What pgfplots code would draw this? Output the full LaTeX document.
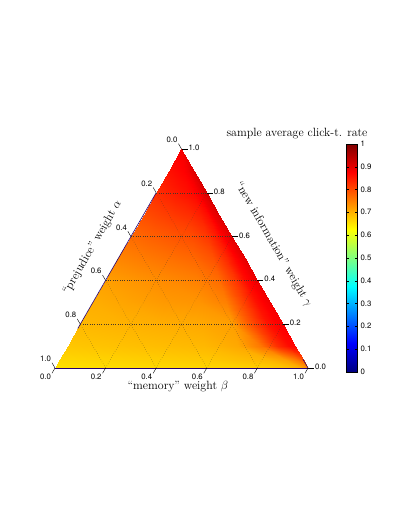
\documentclass[border=0pt]{standalone}
\usepackage{pgfplots}
\pgfplotsset{compat=1.18}
\usepackage{pgfplotstable}
\usepackage{fontspec}
\setsansfont{TeX Gyre Heros}
\definecolor{gridgray}{RGB}{70,55,40}
\definecolor{edgenavy}{RGB}{40,0,110}

% ternary data: b = memory weight beta, c = new-information weight gamma
% (alpha = 1-b-c), v = sample average click-through rate
\pgfplotstableread{
b c v
0 0 0.655
0.2 0 0.658
0.4 0 0.662
0.6 0 0.666
0.75 0 0.670
0.85 0 0.675
0.92 0 0.685
0.97 0 0.700
1 0 0.730
0 0.04 0.665
0.192 0.04 0.670
0.384 0.04 0.675
0.576 0.04 0.680
0.72 0.04 0.690
0.816 0.04 0.700
0.8832 0.04 0.720
0.9312 0.04 0.760
0.96 0.04 0.800
0 0.1 0.680
0.18 0.1 0.685
0.36 0.1 0.690
0.54 0.1 0.695
0.675 0.1 0.710
0.765 0.1 0.760
0.828 0.1 0.830
0.873 0.1 0.865
0.9 0.1 0.870
0 0.2 0.695
0.16 0.2 0.700
0.32 0.2 0.705
0.48 0.2 0.710
0.6 0.2 0.720
0.68 0.2 0.800
0.736 0.2 0.855
0.776 0.2 0.875
0.8 0.2 0.880
0 0.3 0.705
0.14 0.3 0.715
0.28 0.3 0.725
0.42 0.3 0.730
0.525 0.3 0.750
0.595 0.3 0.810
0.644 0.3 0.860
0.679 0.3 0.880
0.7 0.3 0.890
0 0.4 0.720
0.12 0.4 0.730
0.24 0.4 0.740
0.36 0.4 0.750
0.45 0.4 0.770
0.51 0.4 0.820
0.552 0.4 0.865
0.582 0.4 0.885
0.6 0.4 0.895
0 0.5 0.745
0.1 0.5 0.755
0.2 0.5 0.765
0.3 0.5 0.775
0.375 0.5 0.795
0.425 0.5 0.835
0.46 0.5 0.870
0.485 0.5 0.890
0.5 0.5 0.900
0 0.6 0.770
0.08 0.6 0.780
0.16 0.6 0.790
0.24 0.6 0.800
0.3 0.6 0.820
0.34 0.6 0.850
0.368 0.6 0.880
0.388 0.6 0.895
0.4 0.6 0.905
0 0.7 0.800
0.06 0.7 0.810
0.12 0.7 0.820
0.18 0.7 0.830
0.225 0.7 0.845
0.255 0.7 0.865
0.276 0.7 0.890
0.291 0.7 0.900
0.3 0.7 0.910
0 0.8 0.830
0.04 0.8 0.840
0.08 0.8 0.850
0.12 0.8 0.860
0.15 0.8 0.870
0.17 0.8 0.885
0.184 0.8 0.900
0.194 0.8 0.910
0.2 0.8 0.915
0 0.9 0.860
0.02 0.9 0.865
0.04 0.9 0.870
0.06 0.9 0.875
0.075 0.9 0.885
0.085 0.9 0.895
0.092 0.9 0.900
0.097 0.9 0.905
0.1 0.9 0.905
0 1 0.885
0 1 0.885
0 1 0.885
0 1 0.885
0 1 0.885
0 1 0.885
0 1 0.885
0 1 0.885
0 1 0.885
}\ctrdata

\begin{document}
\begin{tikzpicture}
\useasboundingbox (0,0) rectangle (407bp,527bp);
\begin{axis}[
  at={(55bp,159bp)}, anchor=south west,
  scale only axis, width=253bp, height=219.1bp,
  xmin=0, xmax=1, ymin=0, ymax=0.8660254,
  hide axis, clip=false,
  colormap/jet, point meta min=0, point meta max=1,
  colorbar,
  colorbar style={
    at={(parent axis.north east)}, anchor=north west,
    xshift=30bp, yshift=5bp,
    width=10.5bp, height=228bp,
    ytick={0,0.1,0.2,0.3,0.4,0.5,0.6,0.7,0.8,0.9,1},
    yticklabel style={font=\fontsize{7.8}{9}\sffamily,
      /pgf/number format/assume math mode=true},
    major tick length=2bp,
    tick style={line width=0.4pt, black},
    axis line style={line width=0.5pt},
  },
  gridline/.style={gridgray, dotted, line width=0.35pt},
  tickline/.style={black, line width=0.4pt},
]
\addplot[surf, shader=interp, mesh/cols=9, mesh/rows=12,
  point meta=\thisrow{v}]
  table[x expr={\thisrow{b}+0.5*\thisrow{c}}, y expr={0.8660254*\thisrow{c}}] {\ctrdata};

% thin dark edge slivers
\addplot[edgenavy, line width=0.6pt] coordinates {(0,0) (1,0)};
\addplot[edgenavy, line width=0.6pt] coordinates {(0.4,0.6928) (0.09,0.1559)};
\addplot[edgenavy, line width=0.6pt] coordinates {(1,0) (0.98,0.0346)};

% grid lines
\addplot[gridline] coordinates {(0.1,0.1732) (0.9,0.1732)};
\addplot[gridline] coordinates {(0.2,0.3464) (0.8,0.3464)};
\addplot[gridline] coordinates {(0.3,0.5196) (0.7,0.5196)};
\addplot[gridline] coordinates {(0.4,0.6928) (0.6,0.6928)};
\addplot[gridline] coordinates {(0.2,0) (0.6,0.6928)};
\addplot[gridline] coordinates {(0.4,0) (0.7,0.5196)};
\addplot[gridline] coordinates {(0.6,0) (0.8,0.3464)};
\addplot[gridline] coordinates {(0.8,0) (0.9,0.1732)};
\addplot[gridline] coordinates {(0.8,0) (0.4,0.6928)};
\addplot[gridline] coordinates {(0.6,0) (0.3,0.5196)};
\addplot[gridline] coordinates {(0.4,0) (0.2,0.3464)};
\addplot[gridline] coordinates {(0.2,0) (0.1,0.1732)};

% tick marks: left (alpha), bottom (beta), right (gamma)
\addplot[tickline] coordinates {(0.5,0.8660) (0.488,0.8868)};
\addplot[tickline] coordinates {(0.4,0.6928) (0.388,0.7136)};
\addplot[tickline] coordinates {(0.3,0.5196) (0.288,0.5404)};
\addplot[tickline] coordinates {(0.2,0.3464) (0.188,0.3672)};
\addplot[tickline] coordinates {(0.1,0.1732) (0.088,0.1940)};
\addplot[tickline] coordinates {(0,0) (-0.012,0.0208)};
\addplot[tickline] coordinates {(0,0) (-0.012,-0.0208)};
\addplot[tickline] coordinates {(0.2,0) (0.188,-0.0208)};
\addplot[tickline] coordinates {(0.4,0) (0.388,-0.0208)};
\addplot[tickline] coordinates {(0.6,0) (0.588,-0.0208)};
\addplot[tickline] coordinates {(0.8,0) (0.788,-0.0208)};
\addplot[tickline] coordinates {(1,0) (0.988,-0.0208)};
\addplot[tickline] coordinates {(1,0) (1.024,0)};
\addplot[tickline] coordinates {(0.9,0.1732) (0.924,0.1732)};
\addplot[tickline] coordinates {(0.8,0.3464) (0.824,0.3464)};
\addplot[tickline] coordinates {(0.7,0.5196) (0.724,0.5196)};
\addplot[tickline] coordinates {(0.6,0.6928) (0.624,0.6928)};
\addplot[tickline] coordinates {(0.5,0.8660) (0.524,0.8660)};

% tick labels
\begin{scope}[every node/.style={font=\fontsize{7.8}{9}\sffamily, inner sep=0.8pt}]
\node[anchor=south east] at (axis cs:0.488,0.8868) {0.0};
\node[anchor=south east] at (axis cs:0.388,0.7136) {0.2};
\node[anchor=south east] at (axis cs:0.288,0.5404) {0.4};
\node[anchor=south east] at (axis cs:0.188,0.3672) {0.6};
\node[anchor=south east] at (axis cs:0.088,0.1940) {0.8};
\node[anchor=south east] at (axis cs:-0.012,0.0208) {1.0};
\node[anchor=north east] at (axis cs:-0.012,-0.0208) {0.0};
\node[anchor=north east] at (axis cs:0.188,-0.0208) {0.2};
\node[anchor=north east] at (axis cs:0.388,-0.0208) {0.4};
\node[anchor=north east] at (axis cs:0.588,-0.0208) {0.6};
\node[anchor=north east] at (axis cs:0.788,-0.0208) {0.8};
\node[anchor=north east] at (axis cs:0.988,-0.0208) {1.0};
\node[anchor=base west, yshift=-1.5pt] at (axis cs:1.024,0) {0.0};
\node[anchor=base west, yshift=-1.5pt] at (axis cs:0.924,0.1732) {0.2};
\node[anchor=base west, yshift=-1.5pt] at (axis cs:0.824,0.3464) {0.4};
\node[anchor=base west, yshift=-1.5pt] at (axis cs:0.724,0.5196) {0.6};
\node[anchor=base west, yshift=-1.5pt] at (axis cs:0.624,0.6928) {0.8};
\node[anchor=base west, yshift=-1.5pt] at (axis cs:0.524,0.8660) {1.0};
\end{scope}

% axis labels
\node[font=\fontsize{12}{14}\selectfont] at (axis cs:0.486,-0.075) {“memory”\ weight $\beta$};
\node[font=\fontsize{12}{14}\selectfont, rotate=60] at (axis cs:0.148,0.476) {“prejudice”\ weight $\alpha$};
\node[font=\fontsize{12}{14}\selectfont, rotate=-60] at (axis cs:0.864,0.488) {“new information”\ weight $\gamma$};
\end{axis}
\node[font=\fontsize{12}{14}\selectfont] at (297bp,393bp) {sample average click-t. rate};
\end{tikzpicture}
\end{document}
